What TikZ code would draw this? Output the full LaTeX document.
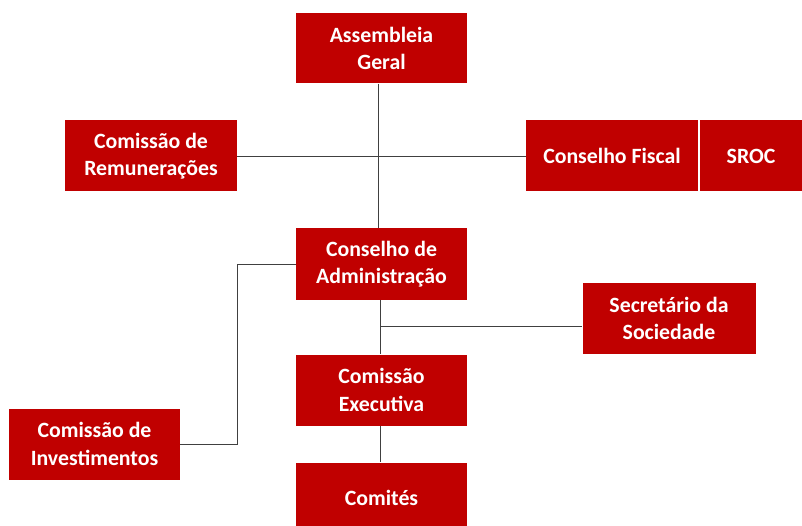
\documentclass[tikz,border=0pt]{standalone}
\usepackage{fontspec}
\setmainfont{Carlito}
\definecolor{boxred}{HTML}{C00000}
\definecolor{linegray}{HTML}{404040}
\begin{document}
\begin{tikzpicture}[x=1pt,y=-1pt,
  orgbox/.style={fill=boxred,text=white,inner sep=0pt,align=center,
    font=\fontsize{21.8}{27.5}\selectfont\bfseries},
  conn/.style={draw=linegray,line width=0.9pt}]
\useasboundingbox (0,0) rectangle (802,526);
\clip (0,0) rectangle (802,526);
\node[orgbox,minimum width=171pt,minimum height=70pt] (ag) at (381.5,48.5) {Assembleia\\Geral};
\node[orgbox,minimum width=172pt,minimum height=71pt] (rem) at (151,156) {Comissão de\\Remunerações};
\node[orgbox,minimum width=172pt,minimum height=71pt] (cf) at (612,156) {Conselho Fiscal};
\node[orgbox,minimum width=103pt,minimum height=71pt] (sroc) at (751,156) {SROC};
\node[orgbox,minimum width=171pt,minimum height=71pt] (ca) at (381.5,264) {Conselho de\\Administração};
\node[orgbox,minimum width=173pt,minimum height=71pt] (sec) at (669,318.3) {Secretário da\\Sociedade};
\node[orgbox,minimum width=171pt,minimum height=71pt] (ce) at (381.5,390) {Comissão\\Executiva};
\node[orgbox,minimum width=171pt,minimum height=71pt] (inv) at (94.5,444) {Comissão de\\Investimentos};
\node[orgbox,minimum width=171pt,minimum height=71pt] (com) at (381.5,498) {Comités};
\draw[conn] ([xshift=-3.5pt]ag.south) -- ([xshift=-3.5pt]ca.north);
\draw[conn] ([yshift=-0.5pt]rem.east) -- ([yshift=-0.5pt]cf.west);
\draw[conn] ([yshift=-0.5pt]ca.west) -- ([xshift=-58pt,yshift=-0.5pt]ca.west) |- (inv.east);
\draw[conn] ([xshift=-1pt]ca.south) -- ([xshift=-1pt]ce.north);
\coordinate (j) at (380.5,326);
\draw[conn] (j) -- (j -| sec.west);
\draw[conn] ([xshift=-1pt]ce.south) -- ([xshift=-1pt]com.north);
\end{tikzpicture}
\end{document}
